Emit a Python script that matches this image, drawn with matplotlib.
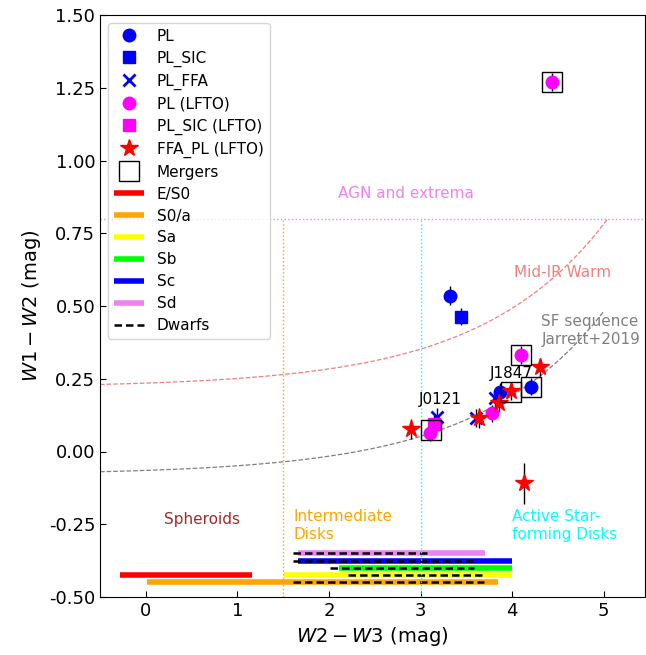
import numpy as np
import matplotlib
matplotlib.use("Agg")
import matplotlib.pyplot as plt

# --- data ---
pl_x = [3.32, 3.87, 4.20]
pl_y = [0.535, 0.205, 0.223]
pl_e = [0.033, 0.03, 0.03]

plsic_x = [3.44]
plsic_y = [0.463]
plsic_e = [0.03]

plffa_x = [3.18, 3.60, 3.81]
plffa_y = [0.12, 0.115, 0.183]
plffa_e = [0.03, 0.03, 0.03]

lfto_x = [4.43, 4.10, 3.78, 3.10]
lfto_y = [1.27, 0.332, 0.131, 0.065]
lfto_e = [0.03, 0.03, 0.03, 0.03]

lftosic_x = [3.15]
lftosic_y = [0.095]
lftosic_e = [0.03]

ffa_x = [2.89, 3.64, 3.86, 3.99, 4.30, 4.13]
ffa_y = [0.078, 0.116, 0.165, 0.207, 0.290, -0.109]
ffa_e = [0.035, 0.035, 0.03, 0.03, 0.03, 0.07]

merger_x = [4.43, 4.10, 4.20, 3.99, 3.11]
merger_y = [1.27, 0.332, 0.223, 0.204, 0.073]

labels_txt = ["J0121", "J1847"]
labels_x = [3.22, 3.99]
labels_y = [0.177, 0.269]

# morphological type ranges in W2-W3 (bottom bars)
morph_names = ["E/S0", "S0/a", "Sa", "Sb", "Sc", "Sd"]
morph_colors = ["red", "orange", "yellow", "lime", "blue", "violet"]
morph_lo = [-0.28, 0.01, 1.51, 2.11, 1.66, 1.66]
morph_hi = [1.155, 3.85, 4.0, 4.0, 4.0, 3.70]
morph_y = [-0.425, -0.45, -0.425, -0.40, -0.375, -0.35]

# dwarfs, per row
dwarf_lo = [1.61, 2.21, 2.01, 1.61, 1.61]
dwarf_hi = [3.69, 3.70, 3.58, 3.62, 3.11]
dwarf_y = [-0.45, -0.425, -0.40, -0.375, -0.35]

# Jarrett+2019 SF sequence: 0.015*exp(x/1.38) + c
jar_a, jar_b = 0.015, 1.38
sf_off, warm_off = -0.08, 0.22

fig = plt.figure(figsize=(6.46, 6.55), dpi=100)
ax = fig.add_axes([100 / 646, 58 / 655, 545 / 646, 582 / 655])

for lo, hi, y, c, n in zip(morph_lo, morph_hi, morph_y, morph_colors, morph_names):
    ax.plot([lo, hi], [y, y], color=c, lw=4, solid_capstyle="butt", label=n)
for i, (lo, hi, y) in enumerate(zip(dwarf_lo, dwarf_hi, dwarf_y)):
    ax.plot([lo, hi], [y, y], color="black", ls=(0, (3, 1.6)), lw=1.8,
            label="Dwarfs" if i == 0 else None)

ax.axhline(0.8, color="violet", ls=":", lw=1)
ax.plot([1.5, 1.5], [-0.5, 0.8], color="orange", ls=":", lw=1)
ax.plot([3.0, 3.0], [-0.5, 0.8], color="cyan", ls=":", lw=1)

xs = np.linspace(-0.5, 5.0, 200)
ax.plot(xs, jar_a * np.exp(xs / jar_b) + sf_off, color="gray", ls="--", lw=0.9)
xw = np.linspace(-0.5, jar_b * np.log((0.8 - warm_off) / jar_a), 200)
ax.plot(xw, jar_a * np.exp(xw / jar_b) + warm_off, color="lightcoral", ls="--", lw=0.9)

ax.text(2.1, 0.87, "AGN and extrema", color="violet", fontsize=11)
ax.text(4.02, 0.6, "Mid-IR Warm", color="lightcoral", fontsize=11)
ax.text(4.32, 0.37, "SF sequence\nJarrett+2019", color="gray", fontsize=11)
ax.text(0.2, -0.25, "Spheroids", color="brown", fontsize=11)
ax.text(1.61, -0.30, "Intermediate\nDisks", color="orange", fontsize=11)
ax.text(4.0, -0.30, "Active Star-\nforming Disks", color="cyan", fontsize=11)

groups = [
    (pl_x, pl_y, pl_e, "o", "blue", 9, "PL"),
    (plsic_x, plsic_y, plsic_e, "s", "blue", 8, "PL_SIC"),
    (plffa_x, plffa_y, plffa_e, "x", "blue", 9, "PL_FFA"),
    (lfto_x, lfto_y, lfto_e, "o", "magenta", 9, "PL (LFTO)"),
    (lftosic_x, lftosic_y, lftosic_e, "s", "magenta", 8, "PL_SIC (LFTO)"),
    (ffa_x, ffa_y, ffa_e, "*", "red", 13, "FFA_PL (LFTO)"),
]
handles = []
for gx, gy, ge, m, c, ms, lab in groups:
    ax.errorbar(gx, gy, yerr=ge, fmt="none", ecolor="black", elinewidth=1, zorder=3)
    h, = ax.plot(gx, gy, ls="none", marker=m, color=c, ms=ms, mew=2 if m == "x" else 1,
                 zorder=4, label=lab)
    handles.append(h)

hm, = ax.plot(merger_x, merger_y, ls="none", marker="s", ms=14, mfc="none",
              mec="black", mew=1, zorder=5, label="Mergers")
handles.append(hm)

for t, x, y in zip(labels_txt, labels_x, labels_y):
    ax.text(x, y, t, fontsize=11, ha="center", va="center", zorder=6)

line_handles = [l for l in ax.get_lines() if l.get_label() in morph_names + ["Dwarfs"]]
ax.legend(handles=handles + line_handles, loc="upper left", fontsize=11,
          labelspacing=0.45)

ax.set_xlim(-0.5, 5.45)
ax.set_ylim(-0.5, 1.5)
ax.set_xticks([0, 1, 2, 3, 4, 5])
ax.set_yticks(np.arange(-0.5, 1.51, 0.25))
ax.yaxis.set_major_formatter(matplotlib.ticker.FormatStrFormatter("%.2f"))
ax.tick_params(direction="in", labelsize=13, length=4)
ax.set_xlabel(r"$W2-W3$ (mag)", fontsize=14)
ax.set_ylabel(r"$W1-W2$ (mag)", fontsize=14)

fig.savefig("out.png", dpi=100)
